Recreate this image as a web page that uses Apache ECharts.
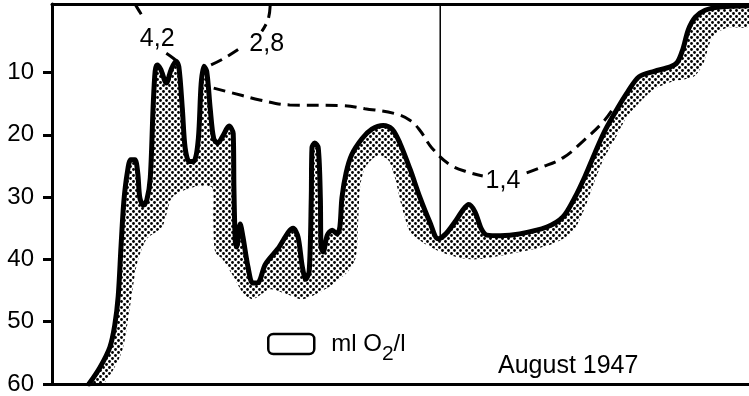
<!DOCTYPE html>
<html>
<head>
<meta charset="utf-8">
<script src="https://cdn.jsdelivr.net/npm/echarts@6/dist/echarts.min.js"></script>
<style>
html, body { margin: 0; padding: 0; background: #fff; }
#showChart { width: 749px; height: 396px; }
</style>
</head>
<body>
<div id="showChart"></div>
<script>
// bottom profile, [distance (0-100), depth m]
var profile = [
    [5.3,60.0],[6.9,57.3],[8.3,54.1],[9.0,50.6],[9.5,45.9],[9.9,38.0],[10.3,30.8],[10.8,26.1],
    [11.3,24.0],[11.9,24.0],[12.3,26.1],[12.6,30.1],[13.1,31.3],[13.6,30.5],[14.1,26.9],[14.5,15.8],
    [14.8,9.8],[15.1,8.8],[15.6,9.5],[16.4,11.7],[17.1,9.5],[17.8,8.2],[18.2,9.1],[18.7,15.8],
    [19.1,22.1],[19.7,24.3],[20.4,24.2],[21.0,20.6],[21.4,11.8],[21.8,9.0],[22.2,9.8],[22.7,15.8],
    [23.2,20.6],[23.8,21.3],[24.5,20.2],[25.4,18.6],[26.0,19.8],[26.1,28.5],[26.3,37.2],[26.5,38.0],
    [27.0,34.3],[27.4,36.4],[28.1,41.1],[28.8,43.8],[29.6,43.7],[30.6,40.8],[32.4,38.3],[34.6,35.0],
    [35.3,36.4],[35.9,41.1],[36.4,43.2],[36.9,41.9],[37.2,30.1],[37.3,22.1],[37.7,21.3],[38.2,22.1],
    [38.5,30.1],[38.6,38.0],[38.9,38.8],[39.5,36.1],[40.2,35.3],[40.9,35.9],[41.3,34.8],[41.6,30.1],
    [42.2,26.1],[43.0,23.2],[44.5,20.6],[45.9,19.1],[47.5,18.5],[48.8,19.1],[49.9,21.3],[51.4,25.6],
    [52.8,30.1],[54.2,34.0],[55.4,36.7],[56.5,35.9],[57.8,34.0],[59.0,32.0],[59.8,31.2],[60.7,32.4],
    [61.6,35.1],[62.4,36.1],[64.3,36.2],[67.1,35.9],[71.0,34.8],[73.3,33.2],[75.0,30.1],[76.5,26.6],
    [77.9,22.9],[79.3,19.4],[81.1,15.8],[82.6,13.1],[84.2,10.7],[86.4,9.8],[88.7,9.1],[89.7,8.4],
    [90.5,6.3],[91.3,3.1],[92.3,1.1],[93.7,0.0],[95.8,-0.5],[100,-0.7]
];
// lower edge of the stippled band, right to left
var shadeEdge = [
    [100,2.6],[96.8,2.8],[94.7,4.4],[93.4,8.7],[92.0,10.7],[89.1,11.4],[86.5,12.6],[85.1,13.9],
    [82.5,17.1],[80.8,20.6],[79.1,24.0],[77.5,28.5],[76.5,31.6],[74.7,35.6],[71.4,37.7],[65.3,39.2],
    [60.4,40.0],[56.7,39.2],[53.8,37.7],[51.4,35.6],[50.2,31.6],[49.2,26.9],[48.2,24.0],[46.6,23.4],
    [44.9,25.3],[44.2,28.5],[43.9,34.8],[43.6,39.6],[42.5,41.9],[39.9,44.3],[36.0,46.4],[33.7,45.6],
    [31.3,44.8],[28.8,46.4],[27.4,45.4],[26.0,42.7],[24.4,39.9],[23.4,38.8],[23.1,33.2],[23.0,28.5],
    [21.2,28.2],[19.1,28.8],[17.2,30.1],[15.8,34.8],[13.6,36.7],[12.2,40.7],[11.2,47.5],[10.0,54.9],
    [7.3,60.1]
];
// oxygen isolines (dashed), each split where its label sits
var iso42a = [[11.9,-1.0],[12.5,0.1],[13.1,1.2]];
var iso42b = [[16.4,6.9],[17.4,7.7],[17.9,8.2]];
var iso28a = [[31.3,-0.7],[31.0,1.5],[30.1,3.4]];
var iso28b = [[26.7,6.3],[24.4,7.9],[22.2,9.1]];
var iso14a = [[23.2,12.5],[27.3,13.7],[29.8,14.4],[34.1,15.2],[41.7,15.3],[44.9,15.8],[49.2,16.6],
              [51.4,17.7],[52.8,19.3],[54.5,22.1],[57.1,24.8],[60.0,26.1],[61.8,26.6]];
var iso14b = [[68.1,26.1],[70.0,25.3],[73.3,23.7],[76.2,21.0],[79.1,17.9],[80.5,15.8]];
var isoNames = ['4,2', '2,8', '1,4'];
var isoLabelPos = [[15.1,4.7],[30.8,5.5],[64.7,27.4]];
// station line
var station = [[55.7,-1],[55.7,36.7]];
var depthTicks = [10, 20, 30, 40, 50, 60];

var fontName = '"Liberation Sans", Arial, sans-serif';

// stipple pattern
function makeDots()
{
    var c = document.createElement('canvas');
    c.width = 6; c.height = 6;
    var ctx = c.getContext('2d');
    ctx.fillStyle = '#000';
    ctx.beginPath(); ctx.arc(1.5, 1.5, 1.4, 0, Math.PI * 2); ctx.fill();
    ctx.beginPath(); ctx.arc(4.5, 4.5, 1.4, 0, Math.PI * 2); ctx.fill();
    return c;
}
var dots = { image: makeDots(), repeat: 'repeat' };

var labelData = [];
for (var i = 0; i < isoNames.length; i++) {
    labelData.push([isoLabelPos[i][0], isoLabelPos[i][1], isoNames[i]]);
}

function dashed(data)
{
    return {
        type: 'line', data: data, smooth: 0.4, showSymbol: false, z: 3,
        lineStyle: { color: '#000', width: 3, type: [12, 7] }
    };
}

var myChart = echarts.init(document.getElementById('showChart'));

option = {
    animation: false,
    backgroundColor: '#fff',
    grid: { left: 52, right: 0, top: 4, bottom: 7 },
    title: {
        text: 'August 1947', left: 498, top: 354, padding: 0,
        textStyle: { fontSize: 25, fontWeight: 'normal', color: '#000', fontFamily: fontName }
    },
    legend: {
        left: 267, top: 332, padding: 0,
        itemWidth: 46, itemHeight: 20, itemGap: 0,
        data: [{
            name: 'O2', icon: 'roundRect',
            itemStyle: { color: '#fff', borderColor: '#000', borderWidth: 2.5 }
        }],
        formatter: function () { return '{g|}{t|ml O}{s|2}{t|/l}'; },
        textStyle: {
            color: '#000', fontFamily: fontName,
            rich: {
                g: { width: 12 },
                t: { fontSize: 24, fontFamily: fontName, color: '#000' },
                s: { fontSize: 21, fontFamily: fontName, color: '#000', padding: [20, 0, 0, 0] }
            }
        }
    },
    xAxis: [{
        type: 'value', min: 0, max: 100, position: 'bottom',
        axisLine: { onZero: false, lineStyle: { color: '#000', width: 3 } },
        axisTick: { show: false }, axisLabel: { show: false }, splitLine: { show: false }
    }, {
        type: 'value', min: 0, max: 100, position: 'top',
        axisLine: { onZero: false, lineStyle: { color: '#000', width: 3 } },
        axisTick: { show: false }, axisLabel: { show: false }, splitLine: { show: false }
    }],
    yAxis: {
        type: 'value', inverse: true, min: -1, max: 60,
        axisLine: { show: true, onZero: false, lineStyle: { color: '#000', width: 3 } },
        axisTick: { customValues: depthTicks, length: 9, lineStyle: { color: '#000', width: 3 } },
        axisLabel: {
            customValues: depthTicks, margin: 18, fontSize: 24, color: '#000', fontFamily: fontName
        },
        splitLine: { show: false }
    },
    series: [
        {
            name: 'O2', type: 'custom', clip: true, z: 1,
            data: [[0, 0]],
            itemStyle: { color: '#fff' },
            renderItem: function (params, api) {
                var pts = [];
                for (var i = 0; i < profile.length; i++) pts.push(api.coord(profile[i]));
                for (var j = 0; j < shadeEdge.length; j++) pts.push(api.coord(shadeEdge[j]));
                return { type: 'polygon', shape: { points: pts, smooth: 0.25 }, style: { fill: dots } };
            }
        },
        {
            name: 'profile', type: 'line', data: profile, smooth: 0.3, showSymbol: false, z: 4,
            lineStyle: { color: '#000', width: 5, cap: 'round', join: 'round' }
        },
        dashed(iso42a), dashed(iso42b), dashed(iso28a), dashed(iso28b), dashed(iso14a), dashed(iso14b),
        {
            name: 'station', type: 'line', data: station, showSymbol: false, z: 2,
            lineStyle: { color: '#000', width: 1.5 }
        },
        {
            name: 'labels', type: 'scatter', data: labelData, symbolSize: 0, z: 5,
            itemStyle: { opacity: 1 },
            label: {
                show: true, position: 'inside', fontSize: 25, color: '#000', fontFamily: fontName,
                formatter: function (p) { return p.value[2]; }
            }
        }
    ]
};

myChart.setOption(option);
</script>
</body>
</html>
